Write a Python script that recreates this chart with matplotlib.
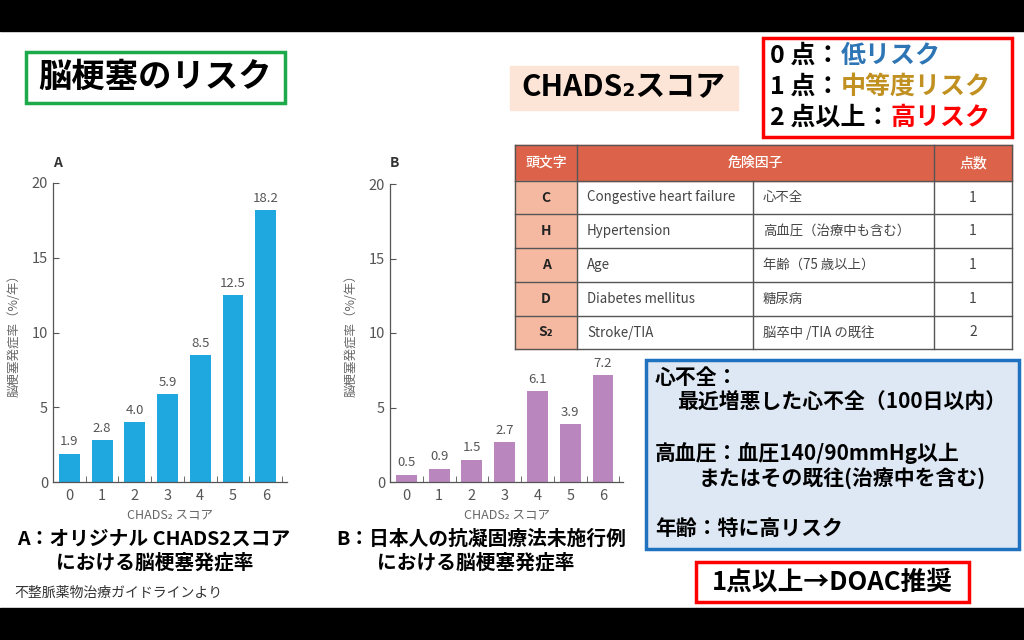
import numpy as np
import matplotlib.pyplot as plt
from matplotlib.patches import Rectangle

plt.rcParams['font.family'] = ['Noto Sans CJK JP', 'DejaVu Sans']

# bar chart data
scores = [0, 1, 2, 3, 4, 5, 6]
rate_a = [1.9, 2.8, 4.0, 5.9, 8.5, 12.5, 18.2]
rate_b = [0.5, 0.9, 1.5, 2.7, 6.1, 3.9, 7.2]
yticks = [0, 5, 10, 15, 20]

# CHADS2 table
initials = ['C', 'H', 'A', 'D', 'S₂']
factors_en = ['Congestive heart failure', 'Hypertension', 'Age', 'Diabetes mellitus', 'Stroke/TIA']
factors_ja = ['心不全', '高血圧（治療中も含む）', '年齢（75 歳以上）', '糖尿病', '脳卒中 /TIA の既往']
points = [1, 1, 1, 1, 2]

W, H = 1024, 640
fig = plt.figure(figsize=(W / 100, H / 100), dpi=100)

# px box (left, top, right, bottom) -> figure fraction
def px(l, t, r, b):
    return [l / W, 1 - b / H, (r - l) / W, (b - t) / H]

# canvas for everything that is not a bar chart
cv = fig.add_axes([0, 0, 1, 1])
cv.set_xlim(0, W)
cv.set_ylim(H, 0)
cv.axis('off')

cv.add_patch(Rectangle((0, 0), W, 31, color='black'))
cv.add_patch(Rectangle((0, 608), W, 32, color='black'))

# title boxes
cv.add_patch(Rectangle((26, 52), 259, 51, fill=False, ec='#1DAA4B', lw=2.5))
cv.text(155, 77, '脳梗塞のリスク', fontsize=24, fontweight='bold', ha='center', va='center')
cv.add_patch(Rectangle((510, 66), 228, 44, color='#FCE4D6'))
cv.text(623, 87, 'CHADS₂スコア', fontsize=21.5, fontweight='bold', ha='center', va='center')

cv.add_patch(Rectangle((763, 38), 249, 99, fill=False, ec='#FF0000', lw=2.5))
risk = [('0 点：', '低リスク', '#2E75B6', 56), ('1 点：', '中等度リスク', '#C09020', 87),
        ('2 点以上：', '高リスク', '#FF0000', 118)]
for head, word, col, y in risk:
    t = cv.text(770, y, head, fontsize=18, fontweight='bold', ha='left', va='center')
    fig.canvas.draw()
    bb = t.get_window_extent()
    cv.text(770 + bb.width, y, word, fontsize=18, fontweight='bold', color=col, ha='left', va='center')

# table
cols = [515, 577, 753, 934, 1012]
rows = [145, 181, 214, 248, 282, 316, 349]
hdr = '#DC634A'
cv.add_patch(Rectangle((cols[0], rows[0]), cols[-1] - cols[0], rows[1] - rows[0], color=hdr))
for i in range(len(initials)):
    cv.add_patch(Rectangle((cols[0], rows[i + 1]), cols[1] - cols[0], rows[i + 2] - rows[i + 1], color='#F5B9A2'))
lc = '#555555'
for y in rows:
    cv.plot([cols[0], cols[-1]], [y, y], color=lc, lw=1)
for j, x in enumerate(cols):
    top = rows[1] if j == 2 else rows[0]
    cv.plot([x, x], [top, rows[-1]], color=lc, lw=1)
hy = (rows[0] + rows[1]) / 2
cv.text((cols[0] + cols[1]) / 2, hy, '頭文字', color='white', fontsize=10, fontweight='medium', ha='center', va='center')
cv.text((cols[1] + cols[3]) / 2, hy, '危険因子', color='white', fontsize=10, fontweight='medium', ha='center', va='center')
cv.text((cols[3] + cols[4]) / 2, hy, '点数', color='white', fontsize=10, fontweight='medium', ha='center', va='center')
for i in range(len(initials)):
    y = (rows[i + 1] + rows[i + 2]) / 2
    cv.text((cols[0] + cols[1]) / 2, y, initials[i], fontsize=10, fontweight='bold', ha='center', va='center', color='#222222')
    cv.text(cols[1] + 10, y, factors_en[i], fontsize=9.6, ha='left', va='center', color='#444444')
    cv.text(cols[2] + 10, y, factors_ja[i], fontsize=9.6, ha='left', va='center', color='#444444')
    cv.text((cols[3] + cols[4]) / 2, y, str(points[i]), fontsize=10, ha='center', va='center', color='#444444')

# notes box
cv.add_patch(Rectangle((646, 360), 373, 189, fc='#DEE8F4', ec='#1F72C0', lw=2.5))
notes = [(655, 377, '心不全：'), (677, 402, '最近増悪した心不全（100日以内）'),
         (655, 453, '高血圧：血圧140/90mmHg以上'), (699, 478, 'またはその既往(治療中を含む)'),
         (655, 528, '年齢：特に高リスク')]
for x, y, s in notes:
    cv.text(x, y, s, fontsize=15, fontweight='bold', ha='left', va='center')

cv.add_patch(Rectangle((696, 562), 273, 40, fill=False, ec='#FF0000', lw=2.5))
cv.text(832, 582, '1点以上→DOAC推奨', fontsize=18.5, fontweight='bold', ha='center', va='center')

# captions
cv.text(154, 539, 'A：オリジナル CHADS2スコア', fontsize=14.2, fontweight='bold', ha='center', va='center')
cv.text(155, 563, 'における脳梗塞発症率', fontsize=14.2, fontweight='bold', ha='center', va='center')
cv.text(481, 539, 'B：日本人の抗凝固療法未施行例', fontsize=14.2, fontweight='bold', ha='center', va='center')
cv.text(476, 563, 'における脳梗塞発症率', fontsize=14.2, fontweight='bold', ha='center', va='center')
cv.text(14, 593, '不整脈薬物治療ガイドラインより', fontsize=10, ha='left', va='center', color='#333333')


def bar_chart(box, values, color, letter, xlim_right):
    ax = fig.add_axes(px(*box))
    ax.set_facecolor('none')
    ax.bar(scores, values, width=0.64, color=color)
    for x, v in zip(scores, values):
        ax.text(x, v + 0.35, f'{v:.1f}', ha='center', va='bottom', fontsize=9.5, color='#555555')
    ax.set_xlim(-0.5, xlim_right)
    ax.set_ylim(0, 20)
    ax.set_yticks(yticks)
    ax.set_xticks(scores)
    ax.set_xticks(np.arange(-0.5, 7, 1), minor=True)
    ax.tick_params(axis='x', which='major', length=0, labelsize=10.5, labelcolor='#555555', pad=5)
    ax.tick_params(axis='x', which='minor', direction='in', length=4, color='#555555')
    ax.tick_params(axis='y', direction='in', length=4, color='#555555', labelsize=10.5, labelcolor='#555555')
    for s in ['top', 'right']:
        ax.spines[s].set_visible(False)
    for s in ['left', 'bottom']:
        ax.spines[s].set_color('#555555')
        ax.spines[s].set_linewidth(0.9)
    ax.set_xlabel('CHADS₂ スコア', fontsize=9, color='#666666', labelpad=4)
    ax.set_ylabel('脳梗塞発症率（%/年）', fontsize=9, color='#666666', labelpad=8)
    return ax


bar_chart((53, 183, 287, 482), rate_a, '#1FA8E0', 'A', 6.65)
bar_chart((390, 184, 623, 482), rate_b, '#BA86BE', 'B', 6.61)
cv.text(53, 163, 'A', fontsize=10, fontweight='bold', color='#333333', ha='left', va='center')
cv.text(390, 163, 'B', fontsize=10, fontweight='bold', color='#333333', ha='left', va='center')

fig.savefig('out.png', dpi=100)
